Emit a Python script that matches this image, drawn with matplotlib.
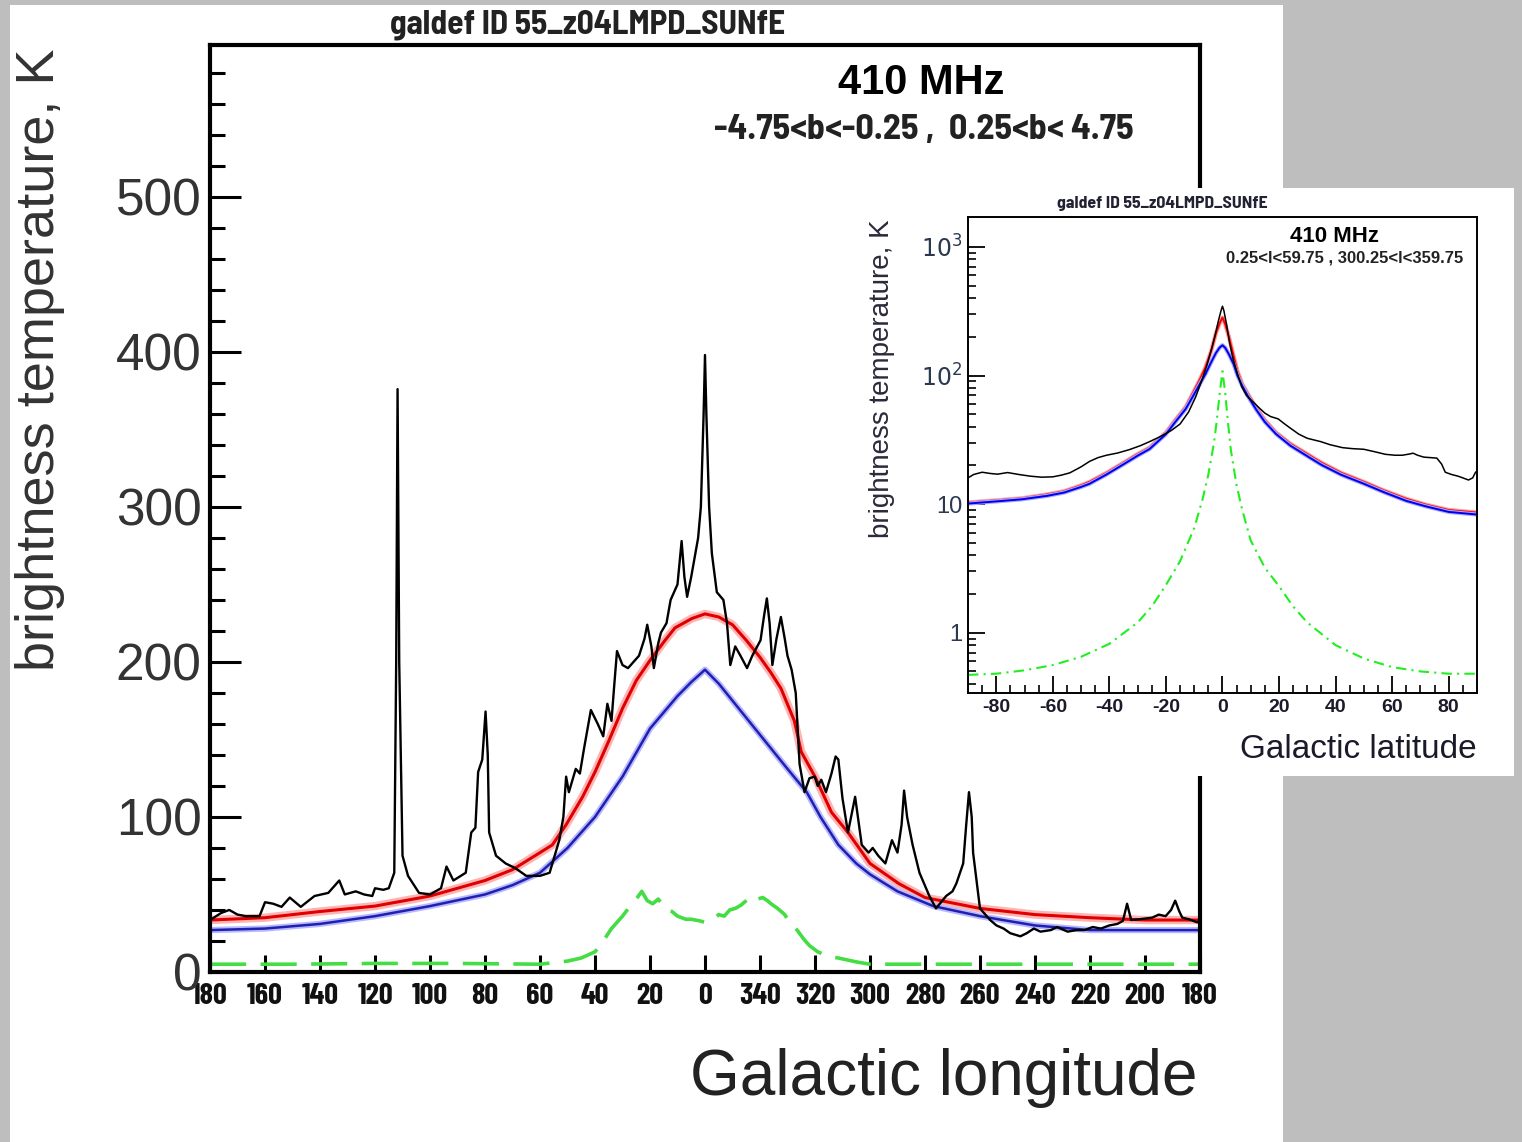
import matplotlib
matplotlib.use("Agg")
import matplotlib.pyplot as plt
from matplotlib.patches import Rectangle
from matplotlib.ticker import FixedLocator, NullFormatter

# main panel: longitude in plot convention (l for l<=180, l-360 for l>180)
lonData = [180, 176, 173, 170, 167, 162, 160, 157, 154, 151, 147, 142, 137, 133, 131, 127, 124, 121, 120, 117,
           115, 113, 112.3, 111.8, 111.2, 110, 108, 104, 100, 96, 94, 91.5, 87, 85, 83.5, 82.5, 81, 79.8, 79, 78.5,
           76, 72.5, 69, 65, 60, 56.5, 53, 51.5, 50.5, 49.5, 47, 45.5, 44, 41.5, 39, 37, 35.5, 34, 33, 32,
           30, 28, 26, 24, 22, 21, 19.5, 18.6, 17, 16, 14, 12.5, 10, 8.5, 7.5, 6.5, 5, 4, 2.5, 1.5,
           0.5, 0, -0.5, -1.5, -2.5, -4.3, -6.7, -8, -9.2, -11, -12.9, -15.3, -17.2, -20.2, -21.5, -22.5, -23.5, -24.5, -26, -27.6,
           -29, -30, -31.5, -33, -34.4, -36.2, -38, -39.9, -41, -42.3, -44, -46, -47.5, -48.5, -50, -52, -54.6, -56, -57, -59.5,
           -61, -63, -65.6, -68, -70, -71.5, -72.4, -73.5, -75.5, -78, -81.6, -84, -87.7, -90, -91.4, -93.9, -95, -96, -97, -97.5,
           -100, -103.7, -106, -108.6, -111, -114.7, -117, -119.6, -122, -125.8, -128, -131.9, -135, -138, -141, -144, -147, -150, -152, -153.5,
           -155, -158, -162.6, -165, -167.5, -169.5, -171, -172.5, -173.6, -176, -179, -180]
tbData = [33.5, 38, 40, 37, 36, 36, 45, 44, 42, 48, 42, 49, 51, 59, 50, 52, 50, 49, 54, 53,
          54, 64, 200, 376, 200, 75, 62, 51, 50, 54, 68, 59, 64, 90, 93, 129, 137, 168, 140, 90,
          75, 70, 67, 62, 62, 64, 85, 100, 126, 116, 131, 128, 144, 169, 160, 152, 173, 162, 185, 207,
          198, 196, 200, 204, 215, 224, 210, 196, 212, 219, 225, 240, 250, 278, 255, 242, 255, 265, 280, 300,
          360, 398, 360, 300, 270, 245, 240, 225, 198, 210, 204, 196, 204, 214, 230, 241, 225, 198, 215, 229,
          215, 204, 195, 180, 134, 116, 125, 126, 120, 124, 116, 128, 139, 137, 112, 90, 113, 95, 82, 77,
          80, 75, 70, 85, 77, 95, 117, 100, 82, 64, 49, 41, 49, 52, 57, 70, 95, 116, 100, 77,
          41, 33.5, 30, 28, 25, 23, 25, 28, 26, 27, 29, 26, 27, 27, 29, 28, 30, 31, 33, 44,
          33.5, 34, 35, 37, 36, 40, 46, 39, 35, 34, 32, 33]

lonRed = [180, 160, 140, 120, 100, 80, 70, 60, 55.5, 50.5, 44.5, 40, 35, 30, 25, 20, 14.5, 10.9, 4.8, 0,
          -5, -10, -15, -20, -24, -27.6, -32.5, -35, -40, -46, -52, -60, -70.5, -80, -100, -120, -140, -160, -180]
tbRed = [33.5, 35, 39, 42.5, 49, 59, 66, 77, 82, 95, 113, 129, 149, 170, 188, 201, 214, 222, 228, 231,
         229, 224, 214, 203, 193, 183, 162, 142, 126, 103, 90, 70, 57, 48, 41, 37, 35, 33.5, 33.5]

lonBlue = [180, 160, 140, 120, 100, 80, 70, 60, 50, 40, 30, 20, 10, 5, 0,
           -5, -10, -20, -30, -37, -42, -48.5, -55, -60, -70, -83, -100, -120, -140, -160, -180]
tbBlue = [27, 28, 31, 36, 42.5, 50, 56, 64, 80, 100, 126, 157, 178, 187, 195,
          186, 175, 153, 131, 116, 100, 82, 70, 63, 52, 42.5, 36, 30, 27, 27, 27]

lonGreen = [180, 150, 120, 90, 60, 50, 45, 40, 37, 34, 30, 27, 25, 23, 21, 19, 17, 14, 12, 10, 7, 5, 2, 0,
            -3, -5, -7, -9, -11, -13, -15, -17, -19, -21, -22.7, -24, -26.4, -29, -31, -33.5, -36, -38, -41, -45,
            -48.5, -55, -60, -90, -120, -150, -180]
tbGreen = [5, 5, 5.5, 5.5, 5, 7, 9, 13, 20, 28, 36, 43, 47, 52, 46, 44, 47, 40, 39, 36, 34, 34, 33, 32,
           34, 37, 36, 40, 41, 43, 46, 49, 47, 48, 46, 44, 41, 37, 31, 27, 21, 17, 13, 10,
           9, 6.5, 5, 5, 5, 5, 5]

lonTicks = [180, 160, 140, 120, 100, 80, 60, 40, 20, 0, -20, -40, -60, -80, -100, -120, -140, -160, -180]
lonTickLabels = ["180", "160", "140", "120", "100", "80", "60", "40", "20", "0",
                 "340", "320", "300", "280", "260", "240", "220", "200", "180"]

# inset: latitude profiles, log scale
latBlack = [-90, -88, -85, -82, -79.5, -76, -72, -68, -64, -60, -57, -54, -50, -47, -44, -41, -37, -33, -29, -25.8,
            -22, -18, -15, -12, -9.5, -7.6, -5.5, -3.8, -2.5, -1.5, -0.5, 0, 0.5, 1.5, 2.5, 3.8, 5.5, 6.8, 8.5, 10.6,
            13, 15, 17, 19.7, 22, 24, 27, 30, 34.8, 38, 42.4, 46, 50, 54, 57.6, 61, 63.6, 66, 67.4, 69,
            71.2, 73.5, 75.8, 77.5, 78.8, 81, 83.3, 85, 87, 88.5, 89.5, 90]
tbLatBlack = [16.0, 17.0, 17.7, 17.3, 17.1, 17.6, 17.0, 16.5, 16.2, 16.3, 16.8, 17.5, 19.5, 21.5, 23.0, 24.0, 25.0, 26.5, 28.5, 30.6,
              33.5, 37.5, 42, 52, 68, 88, 120, 163, 210, 263, 320, 346, 320, 246, 180, 133, 100, 82, 70, 63,
              56, 51, 48, 46, 42, 39, 35, 32.5, 30.6, 29, 27.5, 27, 26.7, 25.5, 24.4, 24, 24.0, 24.5, 24.9, 24.0,
              23.2, 23.0, 22.8, 20.5, 17.7, 17.0, 16.5, 16.0, 15.4, 16.0, 17.7, 18.0]

latModel = [-90, -80, -71, -62, -56, -50, -47, -41, -35, -30, -25.8, -20, -16.7, -13, -10.6, -8, -6, -4, -2.3, -1, 0,
            1, 2.3, 4, 5.3, 7, 9, 12, 15, 19, 24, 30, 35, 42, 50, 57, 65, 72, 80, 90]
tbLatRed = [10.3, 10.7, 11.1, 11.9, 12.6, 14.0, 14.9, 17.5, 21, 24.5, 27.5, 36, 45, 57, 72, 93, 116, 155, 214, 255, 282,
            250, 199, 140, 108, 86, 72, 56, 45, 36, 29.5, 24.5, 21, 17.5, 14.9, 12.8, 11, 9.9, 9.0, 8.6]
tbLatBlue = [10.1, 10.5, 10.9, 11.6, 12.3, 13.6, 14.4, 17.0, 20.4, 23.8, 26.8, 35, 43.5, 55, 68, 86, 103, 127, 150, 165, 172,
             164, 146, 122, 100, 83, 69, 54, 43.5, 35, 28.5, 23.6, 20.2, 16.9, 14.4, 12.4, 10.6, 9.6, 8.7, 8.3]

latGreen = [-90, -80, -70, -60, -50, -40, -30, -25, -20, -15, -10, -7, -5, -3, -2, -1, 0,
            1, 2, 3, 5, 7, 10, 15, 20, 25, 30, 40, 50, 60, 70, 80, 90]
tbLatGreen = [0.47, 0.48, 0.51, 0.56, 0.65, 0.82, 1.2, 1.6, 2.35, 3.6, 6.5, 11, 17, 30, 45, 72, 108,
              72, 42, 26, 14, 9, 5.2, 3.2, 2.3, 1.6, 1.2, 0.8, 0.63, 0.54, 0.5, 0.48, 0.48]

narrow = ["Barlow Condensed", "Liberation Sans", "DejaVu Sans"]
semi = ["Barlow Semi Condensed", "Liberation Sans", "DejaVu Sans"]
plt.rcParams["font.family"] = ["Liberation Sans", "DejaVu Sans"]

fig = plt.figure(figsize=(15.22, 11.42), dpi=100)
fig.patch.set_facecolor("#bebebe")
fig.patches.append(Rectangle((0.0066, 0.0), 0.8364, 0.9956, transform=fig.transFigure,
                             facecolor="white", edgecolor="none", zorder=-1))
fig.patches.append(Rectangle((0.5637, 0.3205), 0.431, 0.5149, transform=fig.transFigure,
                             facecolor="white", edgecolor="none", zorder=1.5))

# ---- main panel
ax = fig.add_axes([0.138, 0.1489, 0.6504, 0.8117])
ax.set_zorder(0)
ax.plot(lonRed, tbRed, color="#ffb4b4", lw=6, solid_capstyle="butt")
ax.plot(lonRed, tbRed, color="#e00000", lw=2.2)
ax.plot(lonBlue, tbBlue, color="#b8b8ff", lw=4.5)
ax.plot(lonBlue, tbBlue, color="#2020b0", lw=1.8)
ax.plot(lonData, tbData, color="black", lw=1.7)
ax.plot(lonGreen, tbGreen, color="#44dd44", lw=2.6, dashes=(10, 4))
ax.set_xlim(180, -180)
ax.set_ylim(0, 598)
for s in ax.spines.values():
    s.set_linewidth(3)
ax.set_xticks(lonTicks, lonTickLabels, fontfamily=narrow, fontweight="bold", fontsize=22, color="#111111")
ax.set_yticks([0, 100, 200, 300, 400, 500], ["0", "100", "200", "300", "400", "500"],
              fontsize=37, color="#333333")
ax.yaxis.set_minor_locator(FixedLocator(list(range(20, 598, 20))))
ax.tick_params(axis="x", direction="in", length=12, width=2.2, pad=8)
ax.tick_params(axis="y", which="major", direction="in", length=22, width=2.2, pad=6)
ax.tick_params(axis="y", which="minor", direction="in", length=11, width=2.2)

fig.text(0.386, 0.978, "galdef ID 55_z04LMPD_SUNfE", family=semi, weight="bold",
         fontsize=24, ha="center", va="center", color="#222222")
fig.text(0.605, 0.9273, "410 MHz", weight="bold", fontsize=30, ha="center", va="center")
fig.text(0.745, 0.8862, "-4.75<b<-0.25 ,  0.25<b< 4.75", family=semi, weight="bold", fontsize=26,
         ha="right", va="center", color="#222222")
fig.text(0.026, 0.685, "brightness temperature, K", rotation=90, fontsize=39,
         ha="center", va="center", color="#333333")
fig.text(0.7865, 0.056, "Galactic longitude", fontsize=46, ha="right", va="center", color="#222222")

# ---- inset panel
ins = fig.add_axes([0.636, 0.3932, 0.3344, 0.4168])
ins.set_zorder(2)
ins.set_facecolor("white")
ins.set_yscale("log")
ins.plot(latModel, tbLatRed, color="#ff9c9c", lw=3)
ins.plot(latModel, tbLatRed, color="#ff0000", lw=1.4)
ins.plot(latModel, tbLatBlue, color="#a8a8ff", lw=3)
ins.plot(latModel, tbLatBlue, color="#0000ee", lw=1.4)
ins.plot(latBlack, tbLatBlack, color="black", lw=1.1)
ins.plot(latGreen, tbLatGreen, color="#22ee22", lw=1.5, dashes=(5, 2.5, 1, 2.5))
ins.set_xlim(-90, 90)
ins.set_ylim(0.34, 1710)
for s in ins.spines.values():
    s.set_linewidth(1.4)
ins.set_xticks([-80, -60, -40, -20, 0, 20, 40, 60, 80],
               ["-80", "-60", "-40", "-20", "0", "20", "40", "60", "80"],
               fontweight="bold", fontsize=14, color="#1a1a2a")
ins.xaxis.set_minor_locator(FixedLocator(list(range(-85, 90, 5))))
ins.set_yticks([1, 10, 100, 1000], ["1", "10", "$10^{2}$", "$10^{3}$"], fontsize=17, color="#2b3950")
ins.yaxis.set_minor_locator(FixedLocator([m * 10.0 ** e for e in range(-1, 4) for m in range(2, 10)]))
ins.yaxis.set_minor_formatter(NullFormatter())
ins.tick_params(which="major", direction="in", length=12, width=1.3, pad=4)
ins.tick_params(which="minor", direction="in", length=6, width=1.2)

fig.text(0.764, 0.8214, "galdef ID 55_z04LMPD_SUNfE", family=semi, weight="bold", fontsize=12.8,
         ha="center", va="center", color="#222233", zorder=3)
fig.text(0.8765, 0.7933, "410 MHz", weight="bold", fontsize=16, ha="center", va="center", zorder=3)
fig.text(0.9614, 0.774, "0.25<l<59.75 , 300.25<l<359.75", weight="bold", fontsize=12,
         ha="right", va="center", color="#222222", zorder=3)
fig.text(0.5795, 0.668, "brightness temperature, K", rotation=90, fontsize=20,
         ha="center", va="center", color="#2a2a3a", zorder=3)
fig.text(0.9704, 0.3433, "Galactic latitude", fontsize=24, ha="right", va="center",
         color="#1a1a2a", zorder=3)

fig.savefig("out.png", dpi=100, facecolor=fig.get_facecolor())
